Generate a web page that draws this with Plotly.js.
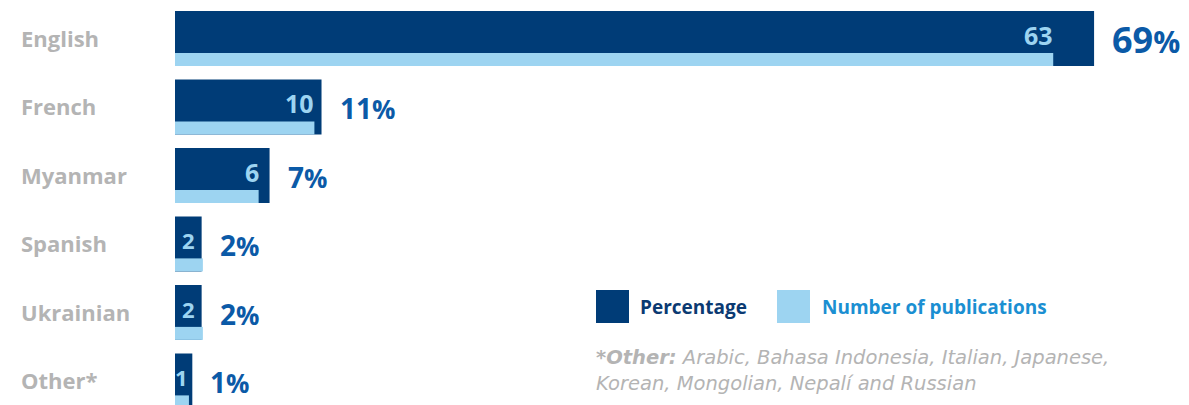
<!DOCTYPE html>
<html>
<head>
<meta charset="utf-8">
<script src="https://cdn.plot.ly/plotly-3.0.1.min.js"></script>
<style>html,body{margin:0;padding:0;background:#fff;}#chart{width:1189px;height:405px;}</style>
</head>
<body>
<div id="chart"></div>
<script>
// ---- data ----
const languages = ["English", "French", "Myanmar", "Spanish", "Ukrainian", "Other*"];
const percentage = [69, 11, 7.1, 2, 2, 1.3];
const publications = [63, 10, 6, 2, 2, 1];
const legendLabels = ["Percentage", "Number of publications"];
const footnoteLead = "*Other:";
const footnoteLine1 = "Arabic, Bahasa Indonesia, Italian, Japanese,";
const footnoteLine2 = "Korean, Mongolian, Nepalí and Russian";

// ---- styling / layout helpers ----
const W = 1189, H = 405, L = 175;
const PW = W - L;
const px = x => (x - L) / PW;
const py = y => (H - y) / H;
const DARK = "#003c77", LIGHT = "#9dd4f1", PCT = "#0b5aa7", GREY = "#b4b4b4";
const FONT = "'Open Sans', Roboto, sans-serif";
const NOTEFONT = "'DejaVu Sans', 'Open Sans', sans-serif";

const darkTrace = {
  type: "bar", orientation: "h", y: languages, x: percentage,
  xaxis: "x", yaxis: "y", width: 0.8, offset: -0.4,
  marker: {color: DARK}, hoverinfo: "skip", showlegend: false
};
const lightTrace = {
  type: "bar", orientation: "h", y: languages, x: publications,
  xaxis: "x2", yaxis: "y", width: 0.19, offset: 0.21,
  marker: {color: LIGHT}, hoverinfo: "skip", showlegend: false
};

const annotations = [];
languages.forEach((lang, i) => {
  annotations.push({
    xref: "paper", yref: "y", x: px(19), y: lang, xanchor: "left", yanchor: "middle", yshift: 1,
    text: "<b>" + lang + "</b>", showarrow: false,
    font: {family: FONT, size: 22, color: GREY}
  });
  const numSize = i === 0 ? 36 : 28;
  const pctSize = i === 0 ? 30 : 26;
  annotations.push({
    xref: "x", yref: "y", x: percentage[i], y: lang, xanchor: "left", yanchor: "middle",
    xshift: 16, yshift: -1,
    text: "<b>" + Math.round(percentage[i]) + "</b><span style=\"font-size:" + pctSize + "px\"><b>%</b></span>",
    showarrow: false, font: {family: FONT, size: numSize, color: PCT}
  });
  const narrow = publications[i] <= 2;
  annotations.push({
    xref: "x2", yref: "y", x: narrow ? publications[i] / 2 : publications[i], y: lang,
    xanchor: narrow ? "center" : "right", yanchor: "middle", yshift: 4, xshift: narrow ? 0 : 2,
    text: "<b>" + publications[i] + "</b>", showarrow: false,
    font: {family: FONT, size: narrow ? 22 : 25, color: LIGHT}
  });
});

// legend
annotations.push({
  xref: "paper", yref: "paper", x: px(638), y: py(307), xanchor: "left", yanchor: "middle",
  text: "<b>" + legendLabels[0] + "</b>", showarrow: false,
  font: {family: FONT, size: 19, color: "#0b3a72"}
});
annotations.push({
  xref: "paper", yref: "paper", x: px(820), y: py(307), xanchor: "left", yanchor: "middle",
  text: "<b>" + legendLabels[1] + "</b>", showarrow: false,
  font: {family: FONT, size: 19, color: "#1b8fd2"}
});
// footnote
annotations.push({
  xref: "paper", yref: "paper", x: px(594), y: py(357), xanchor: "left", yanchor: "middle",
  text: "<b><i>" + footnoteLead + "</i></b><i> " + footnoteLine1 + "</i>", showarrow: false,
  font: {family: NOTEFONT, size: 19.5, color: GREY}
});
annotations.push({
  xref: "paper", yref: "paper", x: px(594), y: py(383), xanchor: "left", yanchor: "middle",
  text: "<i>" + footnoteLine2 + "</i>", showarrow: false,
  font: {family: NOTEFONT, size: 19.5, color: GREY}
});

const shapes = [
  {type: "rect", xref: "paper", yref: "paper", x0: px(596), x1: px(629), y0: py(323), y1: py(290),
   fillcolor: DARK, line: {width: 0}},
  {type: "rect", xref: "paper", yref: "paper", x0: px(777), x1: px(810), y0: py(323), y1: py(290),
   fillcolor: LIGHT, line: {width: 0}}
];

const pitch = 68.5, firstCenter = 38.5;
const layout = {
  width: W, height: H,
  margin: {l: L, r: 0, t: 0, b: 0, pad: 0},
  paper_bgcolor: "#fff", plot_bgcolor: "#fff",
  barmode: "overlay",
  showlegend: false,
  xaxis: {range: [0, PW / 13.32], visible: false, fixedrange: true},
  xaxis2: {range: [0, PW / 13.94], overlaying: "x", visible: false, fixedrange: true},
  yaxis: {
    type: "category", categoryorder: "array", categoryarray: languages,
    range: [(H - firstCenter) / pitch, -firstCenter / pitch],
    showticklabels: false, showgrid: false, zeroline: false, showline: false, ticks: "",
    fixedrange: true
  },
  annotations: annotations,
  shapes: shapes,
  font: {family: FONT}
};

Plotly.newPlot("chart", [darkTrace, lightTrace], layout, {displayModeBar: false, staticPlot: true});
</script>
</body>
</html>
